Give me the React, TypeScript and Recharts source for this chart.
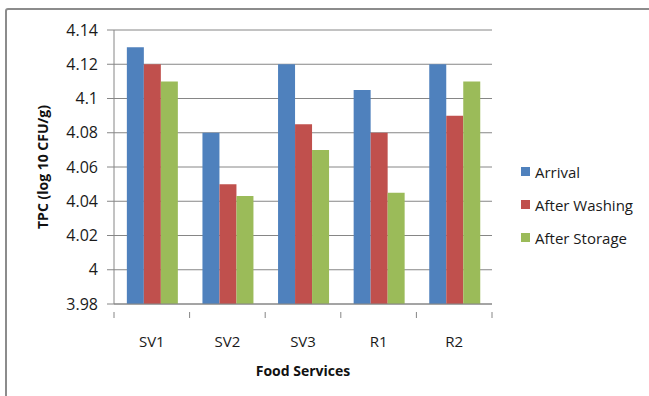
import React from "react";
import { BarChart, Bar, XAxis, YAxis, CartesianGrid, Legend } from "recharts";

const services = ["SV1", "SV2", "SV3", "R1", "R2"];
const arrival = [4.13, 4.08, 4.12, 4.105, 4.12];
const afterWashing = [4.12, 4.05, 4.085, 4.08, 4.09];
const afterStorage = [4.11, 4.043, 4.07, 4.045, 4.11];
const yTicks = [3.98, 4.0, 4.02, 4.04, 4.06, 4.08, 4.1, 4.12, 4.14];

const seriesInfo = [
  { key: "arrival", name: "Arrival", color: "#4F81BD" },
  { key: "washing", name: "After Washing", color: "#C0504D" },
  { key: "storage", name: "After Storage", color: "#9BBB59" },
];

const data = services.map((s, i) => ({
  service: s,
  arrival: arrival[i],
  washing: afterWashing[i],
  storage: afterStorage[i],
}));

const FONT = "'Open Sans', 'Liberation Sans', sans-serif";
const AXIS_GRAY = "#868686";

const CategoryTick = (props: any) => {
  const { x, y, payload, index, visibleTicksCount } = props;
  const band = (492 - 114) / services.length;
  const axisY = y;
  return (
    <g>
      <line x1={x - band / 2} x2={x - band / 2} y1={axisY} y2={axisY + 6} stroke={AXIS_GRAY} />
      {index === visibleTicksCount - 1 && (
        <line x1={x + band / 2} x2={x + band / 2} y1={axisY} y2={axisY + 6} stroke={AXIS_GRAY} />
      )}
      <text x={x} y={axisY + 35} textAnchor="middle" fontSize={15} fill="#1a1a1a" fontFamily={FONT}>
        {payload.value}
      </text>
    </g>
  );
};

const LegendBox = (props: any) => {
  const order = seriesInfo.map((s) => s.name);
  const items = [...(props.payload || [])].sort(
    (a: any, b: any) => order.indexOf(a.value) - order.indexOf(b.value)
  );
  return (
    <div style={{ fontFamily: FONT, fontSize: 15, color: "#1a1a1a" }}>
      {items.map((p: any) => (
        <div key={p.value} style={{ display: "flex", alignItems: "center", height: 33 }}>
          <span style={{ width: 9, height: 9, background: p.color, display: "inline-block", marginRight: 5 }} />
          <span>{p.value}</span>
        </div>
      ))}
    </div>
  );
};

const YTitle = (props: any) => {
  const vb = props.viewBox;
  const cy = vb.y + vb.height / 2;
  return (
    <text
      x={42}
      y={cy}
      transform={`rotate(-90, 42, ${cy})`}
      textAnchor="middle"
      dominantBaseline="central"
      fontSize={14}
      fontWeight="bold"
      fill="#111"
      fontFamily={FONT}
    >
      TPC (log 10 CFU/g)
    </text>
  );
};

const XTitle = (props: any) => {
  const vb = props.viewBox;
  return (
    <text
      x={vb.x + vb.width / 2}
      y={370}
      textAnchor="middle"
      dominantBaseline="central"
      fontSize={14}
      fontWeight="bold"
      fill="#111"
      fontFamily={FONT}
    >
      Food Services
    </text>
  );
};

export default function App() {
  return (
    <div style={{ position: "absolute", left: 0, top: 0, width: 649, height: 396, background: "#fff", overflow: "hidden" }}>
      <div
        style={{
          position: "absolute",
          left: 5,
          top: 8,
          width: 660,
          height: 400,
          border: "2px solid #8c8c8c",
          borderRadius: 3,
          boxSizing: "border-box",
        }}
      />
      <BarChart
        width={649}
        height={396}
        data={data}
        margin={{ top: 30, right: 157, bottom: 0, left: 0 }}
        barCategoryGap="17%"
        barGap={0}
        style={{ position: "absolute", left: 0, top: 0 }}
      >
        <CartesianGrid horizontal vertical={false} stroke={AXIS_GRAY} />
        <XAxis
          dataKey="service"
          height={92}
          axisLine={{ stroke: AXIS_GRAY }}
          tickLine={false}
          tick={<CategoryTick />}
          interval={0}
          label={<XTitle />}
        />
        <YAxis
          width={114}
          domain={[3.98, 4.14]}
          ticks={yTicks}
          allowDataOverflow
          axisLine={{ stroke: AXIS_GRAY }}
          tickLine={{ stroke: AXIS_GRAY }}
          tickSize={7}
          tickMargin={9}
          tick={{ fontSize: 16, fill: "#1a1a1a", fontFamily: FONT }}
          tickFormatter={(v: number) => String(Number(v.toFixed(2)))}
          label={<YTitle />}
        />
        <Legend
          layout="vertical"
          align="center"
          verticalAlign="middle"
          content={<LegendBox />}
          wrapperStyle={{ left: 521, top: 155, width: 128 }}
        />
        {seriesInfo.map((s) => (
          <Bar key={s.key} dataKey={s.key} name={s.name} fill={s.color} isAnimationActive={false} />
        ))}
      </BarChart>
    </div>
  );
}
